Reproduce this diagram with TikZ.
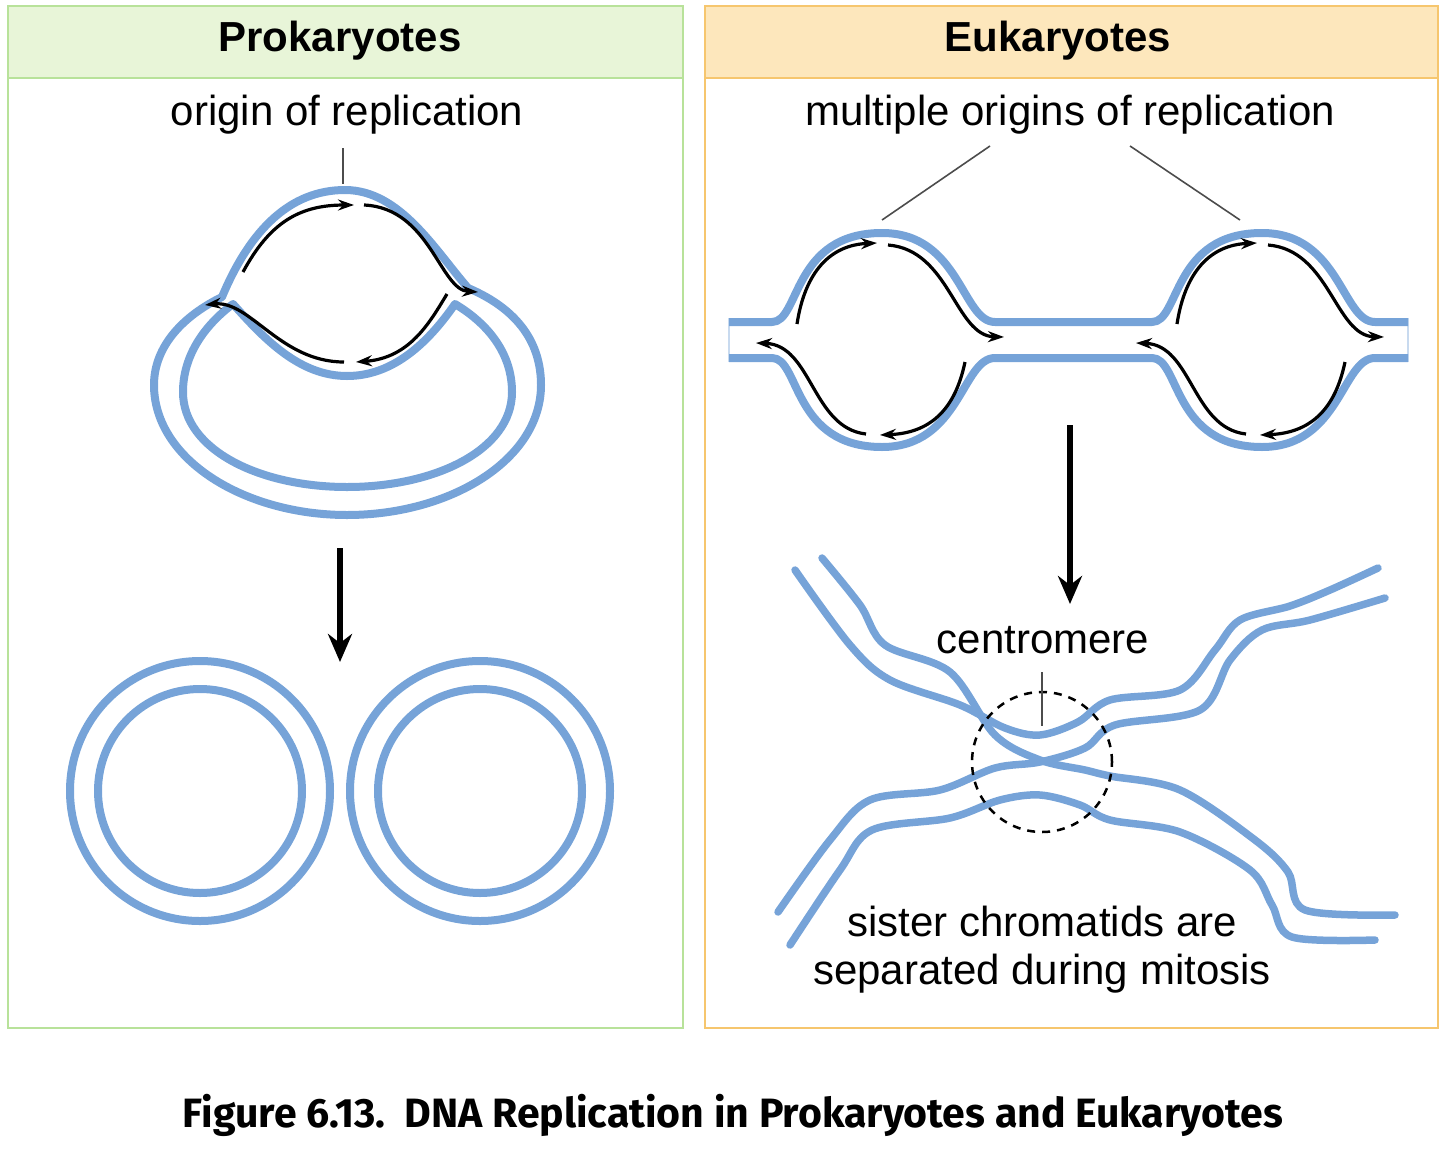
\documentclass[tikz,border=0pt]{standalone}
\usepackage{fontspec}
\setmainfont{Liberation Sans}
\newfontfamily\capfont{Fira Sans}
\usetikzlibrary{arrows.meta}
\definecolor{dna}{HTML}{76A3D8}
\definecolor{gfill}{HTML}{E8F5D8}
\definecolor{gline}{HTML}{B8E29A}
\definecolor{ofill}{HTML}{FDE7BC}
\definecolor{oline}{HTML}{F6C66E}
\tikzset{
 strand/.style={draw=dna,line width=8pt,line join=round,line cap=round},
 fork/.style={draw=black,line width=3.2pt,-{Stealth[length=16pt,width=11pt]}},
 bigarrow/.style={draw=black,line width=6pt,-{Stealth[length=28pt,width=24pt]}},
 lbl/.style={font=\fontsize{42}{48}\selectfont,align=center},
 ttl/.style={font=\fontsize{42}{46}\selectfont\bfseries},
 tick/.style={draw=black!70,line width=1.6pt}
}
\begin{document}
\begin{tikzpicture}[x=1pt,y=-1pt]
\useasboundingbox (0,0) rectangle (1440,1170);
% panels
\draw[gline,line width=2.5pt] (8,6) rectangle (683,1028);
\draw[gline,line width=2.5pt,fill=gfill] (8,6) rectangle (683,78);
\draw[oline,line width=2.5pt] (705,6) rectangle (1438,1028);
\draw[oline,line width=2.5pt,fill=ofill] (705,6) rectangle (1438,78);
\node[ttl] (t1) at (340,41) {Prokaryotes};
\node[ttl] (t2) at (1058,41) {Eukaryotes};
% prokaryote
\node[lbl] (orig) at (347,115) {origin of replication};
\coordinate (o1) at (343,148); \coordinate (o2) at (343,184);
\draw[tick] (o1) -- (o2);
\draw[strand] (222,297) .. controls (250,230) and (290,190) .. (345,190) .. controls (400,190) and (435,250) .. (468,288) .. controls (520,310) and (541,345) .. (541,385) .. controls (541,460) and (450,515) .. (347,515) .. controls (245,515) and (154,460) .. (154,385) .. controls (154,345) and (185,315) .. (222,297) -- cycle;
\draw[strand] (233,304) .. controls (265,340) and (300,376) .. (347,376) .. controls (395,376) and (430,340) .. (455,304) .. controls (490,325) and (512,355) .. (512,392) .. controls (512,450) and (435,487) .. (347,487) .. controls (260,487) and (183,450) .. (183,392) .. controls (183,355) and (205,325) .. (233,304) -- cycle;
\draw[fork] (243,272) .. controls (270,222) and (300,205) .. (354,205);
\draw[fork] (364,205) .. controls (430,208) and (440,290) .. (478,292);
\draw[fork] (447,294) .. controls (430,322) and (410,358) .. (356,362);
\draw[fork] (344,362) .. controls (280,362) and (250,300) .. (205,305);
\coordinate (pa1) at (340,548); \coordinate (pa2) at (340,662);
\draw[bigarrow] (pa1) -- (pa2);
\draw[strand] (200,791) circle (130);
\draw[strand] (200,791) circle (102);
\draw[strand] (480,791) circle (130);
\draw[strand] (480,791) circle (102);
% eukaryote
\node[lbl] (multi) at (1070,115) {multiple origins of replication};
\coordinate (m1) at (990,146); \coordinate (m2) at (882,220);
\coordinate (m3) at (1130,146); \coordinate (m4) at (1240,220);
\draw[tick] (m1) -- (m2); \draw[tick] (m3) -- (m4);
\draw[dna!40,line width=1.5pt] (729,318) -- (729,362) (1408,318) -- (1408,362);
\draw[strand,line cap=butt] (729,322) -- (772,322) .. controls (800,322) and (792,233) .. (882,233) .. controls (960,233) and (962,322) .. (995,322) -- (1152,322) .. controls (1180,322) and (1172,233) .. (1262,233) .. controls (1340,233) and (1342,322) .. (1375,322) -- (1408,322);
\draw[strand,line cap=butt] (729,358) -- (772,358) .. controls (800,358) and (792,447) .. (882,447) .. controls (960,447) and (962,358) .. (995,358) -- (1152,358) .. controls (1180,358) and (1172,447) .. (1262,447) .. controls (1340,447) and (1342,358) .. (1375,358) -- (1408,358);
\foreach \dx in {0,380}{
 \draw[fork] (797+\dx,324) .. controls (805+\dx,272) and (830+\dx,245) .. (877+\dx,243);
 \draw[fork] (888+\dx,245) .. controls (950+\dx,250) and (955+\dx,336) .. (1004+\dx,337);
 \draw[fork] (965+\dx,362) .. controls (955+\dx,410) and (930+\dx,433) .. (880+\dx,435);
 \draw[fork] (866+\dx,434) .. controls (812+\dx,428) and (812+\dx,345) .. (756+\dx,343);
}
\coordinate (ea1) at (1070,425); \coordinate (ea2) at (1070,604);
\draw[bigarrow] (ea1) -- (ea2);
% chromatids
\draw[strand,line width=7.5pt] plot[smooth,tension=0.55] coordinates {(795,570) (850,645) (890,680) (960,705) (1005,728) (1040,735) (1078,722) (1110,700) (1180,690) (1215,650) (1240,620) (1290,606) (1330,590) (1378,568)};
\draw[strand,line width=7.5pt] plot[smooth,tension=0.55] coordinates {(822,558) (860,605) (885,645) (950,672) (995,735) (1040,760) (1085,770) (1110,776) (1180,790) (1255,840) (1288,872) (1305,910) (1395,915)};
\draw[strand,line width=7.5pt] plot[smooth,tension=0.55] coordinates {(778,912) (830,840) (870,800) (940,790) (995,768) (1040,762) (1085,748) (1115,725) (1200,710) (1230,660) (1262,630) (1310,620) (1385,598)};
\draw[strand,line width=7.5pt] plot[smooth,tension=0.55] coordinates {(790,945) (840,870) (872,830) (950,818) (1000,800) (1040,795) (1080,805) (1110,820) (1180,832) (1250,870) (1272,905) (1292,937) (1375,940)};
\node[draw=black,line width=2.5pt,dash pattern=on 8pt off 7pt,circle,minimum size=140pt,inner sep=0pt] (cen) at (1042,762) {};
\node[lbl] (centro) at (1043,640) {centromere};
\coordinate (c1) at (1042,672); \coordinate (c2) at (1042,726);
\draw[tick] (c1) -- (c2);
\node[lbl] (sis) at (1042,950) {sister chromatids are\\separated during mitosis};
% caption
\node (cap) at (733,1115) {\resizebox{1100pt}{!}{\capfont\bfseries Figure 6.13.\ \ DNA Replication in Prokaryotes and Eukaryotes}};
\end{tikzpicture}
\end{document}
